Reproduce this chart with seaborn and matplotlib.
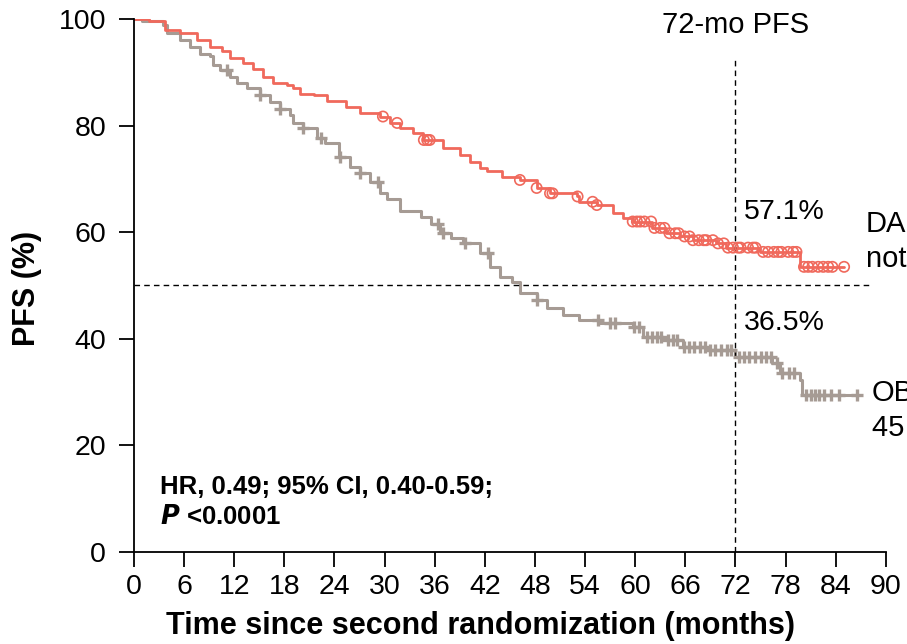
import numpy as np
import pandas as pd
import matplotlib
matplotlib.use("Agg")
import matplotlib.pyplot as plt
import seaborn as sns

# KM step points (months, PFS %)
dara_t = [0, 1.8, 3.7, 5.5, 7.5, 9.1, 10.5, 11.5, 13.0, 14.3, 15.5, 16.7, 18.3, 19.0, 19.9,
          21.5, 23.1, 25.4, 27.0, 29.4, 30.6, 31.8, 33.4, 34.6, 37.0, 39.0, 40.2, 41.4, 42.2,
          44.1, 46.2, 48.2, 49.8, 53.0, 53.3, 55.4, 57.3, 58.5, 59.7, 62.0, 63.7, 65.3, 66.9,
          69.7, 70.9, 74.9, 79.7]
dara_s = [100, 99.6, 97.9, 97.4, 96.0, 94.8, 94.0, 92.6, 91.7, 90.7, 89.2, 87.9, 87.6, 87.0,
          86.0, 85.7, 84.7, 83.5, 82.3, 81.7, 80.5, 79.6, 78.6, 77.3, 75.8, 74.5, 73.2, 72.0,
          71.4, 70.4, 69.8, 68.3, 67.3, 66.7, 65.7, 65.1, 63.6, 62.7, 62.0, 60.8, 59.8, 59.2,
          58.5, 57.9, 57.1, 56.3, 53.5]
dara_end = 85.0
dara_cens = [29.8, 31.5, 34.7, 35.1, 35.4, 46.2, 48.2, 49.8, 50.1, 53.1, 54.9, 55.4, 59.7,
             60.2, 60.6, 61.1, 61.9, 62.3, 63.0, 63.5, 64.1, 64.8, 65.2, 65.9, 66.5, 66.9,
             67.6, 68.2, 68.5, 69.3, 69.9, 70.6, 71.1, 71.7, 72.3, 72.6, 73.5, 74.1, 74.4,
             75.3, 75.9, 76.6, 77.1, 77.5, 78.3, 78.9, 79.3, 80.2, 80.7, 81.2, 81.9, 82.5,
             83.1, 83.6, 85.0]

obs_t = [0, 1.0, 3.5, 4.0, 5.5, 6.7, 7.9, 9.1, 9.5, 10.3, 11.5, 12.3, 13.5, 15.1, 16.3, 17.5,
         18.7, 19.0, 20.2, 21.9, 22.9, 24.6, 25.8, 27.0, 28.2, 29.4, 30.3, 31.8, 34.4, 35.5,
         36.6, 38.0, 39.4, 41.4, 42.6, 43.8, 45.2, 46.2, 48.2, 49.4, 51.3, 53.3, 55.7, 59.7,
         60.9, 63.7, 65.7, 68.5, 71.9, 76.4, 77.3, 79.7, 80.0]
obs_s = [100, 99.6, 98.9, 97.3, 96.1, 94.8, 93.5, 93.0, 91.4, 90.4, 89.2, 87.9, 87.0, 85.7,
         84.5, 83.2, 82.0, 80.4, 79.5, 77.6, 76.7, 74.2, 72.2, 71.1, 69.4, 67.3, 66.2, 63.9,
         62.8, 61.5, 59.8, 59.0, 58.0, 56.1, 53.5, 51.6, 50.7, 48.5, 47.3, 45.7, 44.5, 43.5,
         42.9, 42.3, 40.4, 39.8, 38.5, 37.9, 36.5, 35.4, 33.6, 32.3, 29.5]
obs_end = 86.5
obs_cens = [11.1, 15.1, 17.5, 20.2, 22.4, 24.7, 27.0, 29.2, 36.4, 37.0, 39.6, 42.4, 48.3,
            55.5, 57.0, 57.6, 59.9, 60.5, 61.4, 62.0, 62.6, 63.1, 63.9, 64.5, 65.0, 65.8,
            66.4, 67.0, 67.7, 68.3, 69.0, 69.6, 70.3, 71.0, 71.5, 72.4, 73.0, 73.6, 74.3,
            75.0, 75.6, 76.2, 77.0, 77.6, 78.4, 79.0, 80.5, 81.0, 81.5, 82.0, 82.6, 83.4,
            84.4, 86.5]

x_ticks = list(range(0, 91, 6))
y_ticks = [0, 20, 40, 60, 80, 100]

red = "#F0695C"
grey = "#A69B94"

sns.set_style("white")
plt.rcParams["font.family"] = ["Liberation Sans", "DejaVu Sans"]
plt.rcParams["text.color"] = "black"
plt.rcParams["axes.labelcolor"] = "black"
plt.rcParams["xtick.color"] = "black"
plt.rcParams["ytick.color"] = "black"


def curve(t, s, end):
    return pd.DataFrame({"t": list(t) + [end], "s": list(s) + [s[-1]]})


def at(t, s, times):
    idx = np.searchsorted(np.array(t), np.array(times), side="right") - 1
    return np.array(s)[idx]


fig = plt.figure(figsize=(9.07, 6.44), dpi=100)
ax = fig.add_axes([0.1477, 0.1429, 0.829, 0.8276])

d1 = curve(dara_t, dara_s, dara_end)
d2 = curve(obs_t, obs_s, obs_end)
sns.lineplot(data=d2, x="t", y="s", ax=ax, color=grey, lw=2.2, drawstyle="steps-post",
             estimator=None, sort=False)
sns.lineplot(data=d1, x="t", y="s", ax=ax, color=red, lw=2.0, drawstyle="steps-post",
             estimator=None, sort=False)

sns.scatterplot(x=obs_cens, y=at(obs_t, obs_s, obs_cens), ax=ax, marker="+", s=80,
                color=grey, linewidth=2.4, zorder=3)
sns.scatterplot(x=dara_cens, y=at(dara_t, dara_s, dara_cens), ax=ax, marker="o", s=55,
                facecolor="none", edgecolor=red, linewidth=1.2, zorder=4)

ax.plot([0, 88], [50, 50], color="black", lw=1.0, ls=(0, (4, 3)))
ax.plot([72, 72], [0, 92.3], color="black", lw=1.0, ls=(0, (4, 3)))

ax.set_xlim(0, 90)
ax.set_ylim(0, 100)
ax.set_xticks(x_ticks)
ax.set_yticks(y_ticks)
ax.tick_params(axis="both", which="major", direction="out", length=11, width=1.3,
               color="black", labelsize=20.5, bottom=True, left=True)
ax.tick_params(axis="y", pad=9)
ax.tick_params(axis="x", pad=5)
sns.despine(ax=ax)
for sp in ["left", "bottom"]:
    ax.spines[sp].set_linewidth(1.3)
    ax.spines[sp].set_color("black")

ax.set_xlabel("Time since second randomization (months)", fontsize=22, fontweight="bold")
ax.set_ylabel("PFS (%)", fontsize=22, fontweight="bold")
ax.xaxis.set_label_coords(0.461, -0.110)
ax.yaxis.set_label_coords(-0.122, 0.495)

ax.text(72, 98.8, "72-mo PFS", ha="center", va="center", fontsize=21)
ax.text(73, 63.8, "57.1%", ha="left", va="center", fontsize=20.5)
ax.text(73, 43.0, "36.5%", ha="left", va="center", fontsize=20.5)
ax.text(87.6, 58.3, "DARA\nnot reached", ha="left", va="center", fontsize=21,
        linespacing=1.3, clip_on=False)
ax.text(88.3, 26.6, "OBS\n45.8 mo", ha="left", va="center", fontsize=21,
        linespacing=1.3, clip_on=False)

ax.text(3.1, 12.2, "HR, 0.49; 95% CI, 0.40-0.59;", fontsize=18.5, fontweight="bold",
        va="center")
ax.text(3.1, 6.6, "$\\bfit{P}$ <0.0001", fontsize=18.5, fontweight="bold", va="center")

fig.savefig("out.png", dpi=100)
